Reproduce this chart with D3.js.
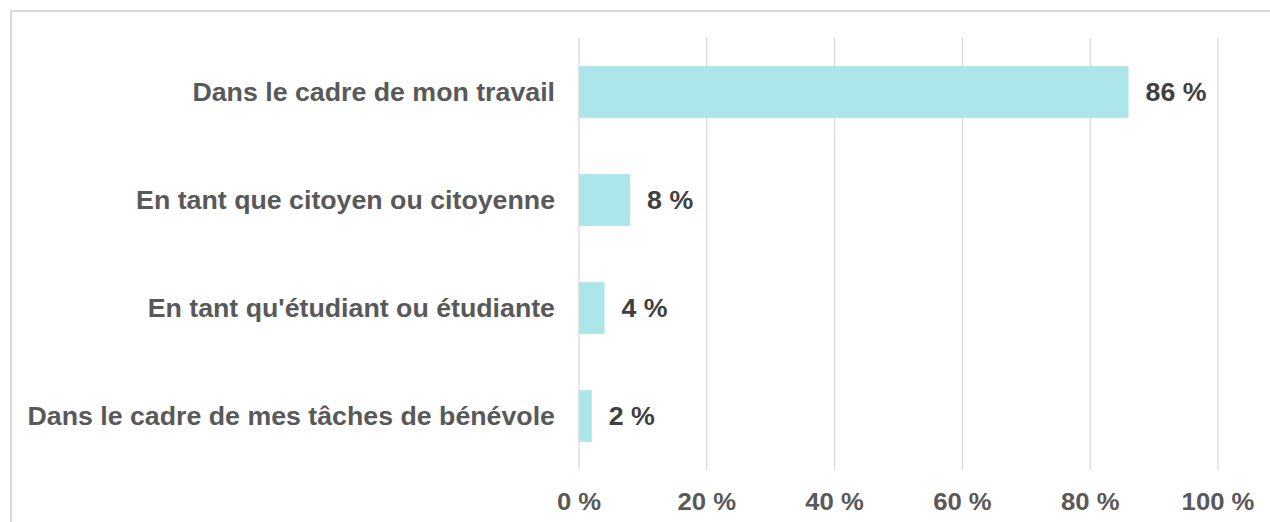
<!DOCTYPE html>
<html><head><meta charset="utf-8">
<script src="https://cdn.jsdelivr.net/npm/d3@7"></script>
<style>body{margin:0;background:#fff}svg{display:block}</style>
</head><body>
<svg id="c" width="1270" height="522"></svg>
<script>
const categories = ["Dans le cadre de mon travail","En tant que citoyen ou citoyenne","En tant qu'étudiant ou étudiante","Dans le cadre de mes tâches de bénévole"];
const values = [86, 8, 4, 2];
const ticks = [0, 20, 40, 60, 80, 100];

const svg = d3.select("#c");
svg.append("rect").attr("x",11).attr("y",11).attr("width",1300).attr("height",600)
  .attr("fill","#fff").attr("stroke","#d9d9d9").attr("stroke-width",2);

const x = d3.scaleLinear().domain([0,100]).range([579,1218]);
const y = d3.scaleBand().domain(categories).range([38,470]).paddingInner(0.52).paddingOuter(0.26);

svg.append("g").selectAll("line").data(ticks).join("line")
  .attr("x1",d=>x(d)).attr("x2",d=>x(d)).attr("y1",38).attr("y2",470)
  .attr("stroke","#d9d9d9").attr("stroke-width",1.3);

svg.append("g").selectAll("rect").data(values).join("rect")
  .attr("x",x(0)).attr("y",(d,i)=>y(categories[i]))
  .attr("width",d=>x(d)-x(0)).attr("height",y.bandwidth()).attr("fill","#ade6ea");

const font = "'Liberation Sans', Arial, sans-serif";
const sx = 1.07;
svg.append("g").selectAll("text").data(categories).join("text")
  .attr("transform",d=>`translate(555,${y(d)+y.bandwidth()/2}) scale(${sx},1)`)
  .attr("dy","0.35em")
  .attr("text-anchor","end").attr("font-family",font).attr("font-weight","bold")
  .attr("font-size",25).attr("fill","#595959").text(d=>d);

svg.append("g").selectAll("text").data(values).join("text")
  .attr("transform",(d,i)=>`translate(${x(d)+17},${y(categories[i])+y.bandwidth()/2}) scale(${sx},1)`)
  .attr("dy","0.37em")
  .attr("font-family",font).attr("font-weight","bold")
  .attr("font-size",25).attr("fill","#404040").text(d=>d+" %");

svg.append("g").selectAll("text").data(ticks).join("text")
  .attr("transform",d=>`translate(${x(d)},510) scale(${sx},1)`)
  .attr("text-anchor","middle").attr("font-family",font).attr("font-weight","bold")
  .attr("font-size",24).attr("fill","#595959").text(d=>d+" %");
</script>
</body></html>
